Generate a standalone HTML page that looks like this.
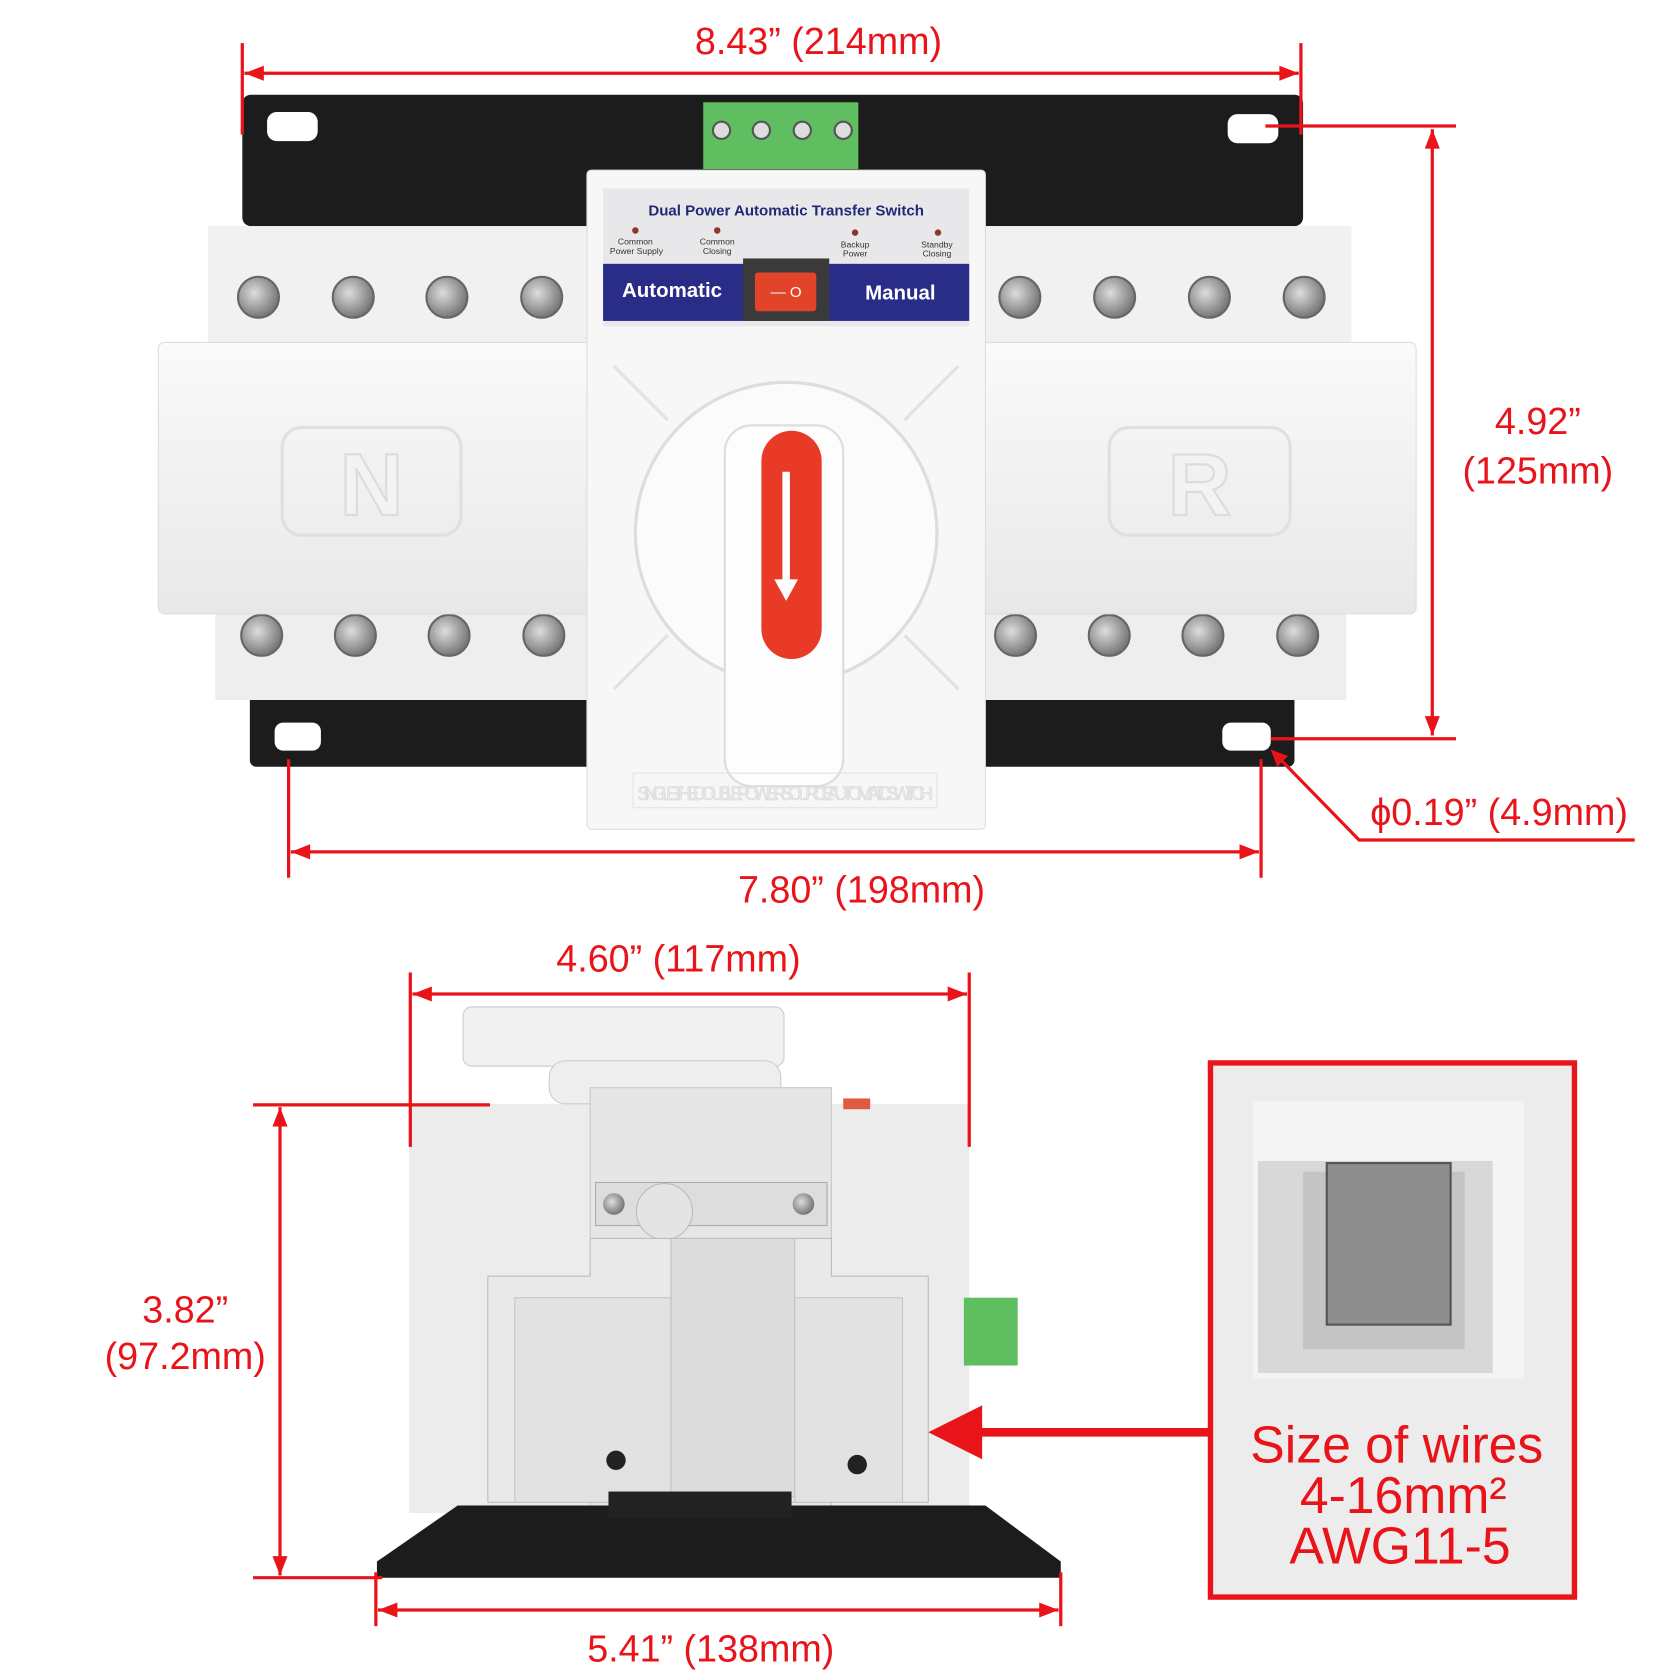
<!DOCTYPE html>
<html><head><meta charset="utf-8"><style>html,body{margin:0;padding:0;background:#fff}svg{display:block}</style></head>
<body>
<svg width="1680" height="1680" viewBox="0 0 1560 1560" xmlns="http://www.w3.org/2000/svg" font-family="Liberation Sans, sans-serif">
<defs>
<radialGradient id="sc" cx="0.4" cy="0.4" r="0.6"><stop offset="0" stop-color="#ddd"/><stop offset="1" stop-color="#777"/></radialGradient>
<linearGradient id="wg" x1="0" y1="0" x2="0" y2="1"><stop offset="0" stop-color="#fafafa"/><stop offset="1" stop-color="#e8e8e8"/></linearGradient>
</defs>
<!-- top view plates -->
<rect x="225" y="88" width="985" height="122" rx="8" fill="#1c1c1c"/>
<rect x="248" y="104" width="47" height="27" rx="9" fill="#fff"/>
<rect x="1140" y="106" width="47" height="27" rx="9" fill="#fff"/>
<rect x="232" y="640" width="970" height="72" rx="6" fill="#1c1c1c"/>
<rect x="255" y="671" width="43" height="26" rx="8" fill="#fff"/>
<rect x="1135" y="671" width="45" height="26" rx="8" fill="#fff"/>
<!-- green terminal -->
<rect x="653" y="95" width="144" height="62" fill="#5fbf60"/>
<g fill="#ddd" stroke="#555" stroke-width="2"><circle cx="670" cy="121" r="8"/><circle cx="707" cy="121" r="8"/><circle cx="745" cy="121" r="8"/><circle cx="783" cy="121" r="8"/></g>
<!-- terminal rows -->
<rect x="193" y="210" width="355" height="110" fill="#f1f1f1"/>
<rect x="912" y="210" width="343" height="110" fill="#f1f1f1"/>
<rect x="200" y="565" width="348" height="85" fill="#eeeeee"/>
<rect x="912" y="565" width="338" height="85" fill="#eeeeee"/>
<g fill="url(#sc)" stroke="#666" stroke-width="2">
<circle cx="240" cy="276" r="19"/><circle cx="328" cy="276" r="19"/><circle cx="415" cy="276" r="19"/><circle cx="503" cy="276" r="19"/>
<circle cx="947" cy="276" r="19"/><circle cx="1035" cy="276" r="19"/><circle cx="1123" cy="276" r="19"/><circle cx="1211" cy="276" r="19"/>
<circle cx="243" cy="590" r="19"/><circle cx="330" cy="590" r="19"/><circle cx="417" cy="590" r="19"/><circle cx="505" cy="590" r="19"/>
<circle cx="943" cy="590" r="19"/><circle cx="1030" cy="590" r="19"/><circle cx="1117" cy="590" r="19"/><circle cx="1205" cy="590" r="19"/>
</g>
<!-- main body -->
<rect x="147" y="318" width="1168" height="252" rx="6" fill="url(#wg)" stroke="#ddd"/>
<rect x="262" y="397" width="166" height="100" rx="18" fill="none" stroke="#e0e0e0" stroke-width="3"/>
<rect x="1030" y="397" width="168" height="100" rx="18" fill="none" stroke="#e0e0e0" stroke-width="3"/>
<text x="345" y="478" font-size="82" font-weight="bold" fill="#f3f3f3" stroke="#dcdcdc" stroke-width="2" text-anchor="middle">N</text>
<text x="1114" y="478" font-size="82" font-weight="bold" fill="#f3f3f3" stroke="#dcdcdc" stroke-width="2" text-anchor="middle">R</text>
<!-- center module -->
<rect x="545" y="158" width="370" height="612" rx="4" fill="#f7f7f7" stroke="#ddd"/>
<rect x="560" y="175" width="340" height="128" fill="#e8e8ea"/>
<text x="730" y="200" font-size="14" font-weight="bold" fill="#1e2a78" text-anchor="middle">Dual Power Automatic Transfer Switch</text>
<g fill="#8a3a2a"><circle cx="590" cy="214" r="3"/><circle cx="666" cy="214" r="3"/><circle cx="794" cy="216" r="3"/><circle cx="871" cy="216" r="3"/></g>
<g font-size="8" fill="#333" text-anchor="middle"><text x="590" y="227">Common</text><text x="591" y="236">Power Supply</text><text x="666" y="227">Common</text><text x="666" y="236">Closing</text><text x="794" y="230">Backup</text><text x="794" y="238">Power</text><text x="870" y="230">Standby</text><text x="870" y="238">Closing</text></g>
<rect x="560" y="245" width="340" height="53" fill="#2a2d88"/>
<rect x="690" y="240" width="80" height="58" fill="#3a3a3a"/>
<rect x="701" y="253" width="57" height="36" rx="3" fill="#e2442a"/>
<text x="730" y="276" font-size="14" fill="#fff" text-anchor="middle">— O</text>
<text x="624" y="276" font-size="19" font-weight="bold" fill="#fff" text-anchor="middle">Automatic</text>
<text x="836" y="278" font-size="19" font-weight="bold" fill="#fff" text-anchor="middle">Manual</text>
<circle cx="730" cy="495" r="140" fill="#fbfbfb" stroke="#ddd" stroke-width="3"/>
<g stroke="#e2e2e2" stroke-width="3" fill="none"><path d="M570 340L620 390M890 340L840 390M570 640L620 590M890 640L840 590"/></g>
<rect x="673" y="395" width="110" height="335" rx="25" fill="#fdfdfd" stroke="#ddd" stroke-width="2"/>
<rect x="707" y="400" width="56" height="212" rx="28" fill="#e83a26"/>
<path d="M730 438V545" stroke="#fff" stroke-width="7"/><path d="M719 538L730 558L741 538Z" fill="#fff"/>
<rect x="588" y="718" width="282" height="32" fill="none" stroke="#e3e3e3"/>
<text x="729" y="743" font-size="18" fill="#e8e8e8" stroke="#d8d8d8" stroke-width="0.5" text-anchor="middle" textLength="275">SINGLE THE DOUBLE POWER SOURCE AUTOMATIC SWITCH</text>
<!-- top view dims -->
<g stroke="#e8141a" stroke-width="3" fill="none">
<path d="M225 40V125M1208 40V125M227 68H1206"/>
<path d="M1175 117H1352M1180 686H1352M1330 120V683"/>
<path d="M268 705V815M1171 705V815M270 791H1169"/>
<path d="M1182 698L1262 780H1518"/>
</g>
<g fill="#e8141a">
<path d="M227 68l18-7v14z"/><path d="M1206 68l-18-7v14z"/>
<path d="M1330 120l-7 18h14z"/><path d="M1330 683l-7-18h14z"/>
<path d="M270 791l18-7v14z"/><path d="M1169 791l-18-7v14z"/>
<path d="M1180 696l16 6-10 10z"/>
</g>
<g fill="#e8141a" font-size="35" text-anchor="middle">
<text x="760" y="50">8.43” (214mm)</text>
<text x="1428" y="403">4.92”</text><text x="1428" y="449">(125mm)</text>
<text x="800" y="838">7.80” (198mm)</text>
<text x="1392" y="766">ϕ0.19” (4.9mm)</text>
<text x="630" y="902">4.60” (117mm)</text>
<text x="172" y="1228">3.82”</text><text x="172" y="1271">(97.2mm)</text>
<text x="660" y="1543">5.41” (138mm)</text>
</g>
<!-- side view -->
<rect x="380" y="1025" width="520" height="380" fill="#ececec"/>
<rect x="430" y="935" width="298" height="55" rx="8" fill="#f1f1f1" stroke="#ccc"/>
<rect x="510" y="985" width="215" height="40" rx="15" fill="#eee" stroke="#ccc"/>
<rect x="783" y="1020" width="25" height="10" fill="#e05a40"/>
<rect x="548" y="1010" width="224" height="390" fill="#e6e6e6" stroke="#c8c8c8"/>
<rect x="553" y="1098" width="215" height="40" fill="#ddd" stroke="#aaa"/>
<circle cx="570" cy="1118" r="10" fill="url(#sc)"/><circle cx="746" cy="1118" r="10" fill="url(#sc)"/>
<circle cx="617" cy="1125" r="26" fill="#e4e4e4" stroke="#bbb"/>
<path d="M453 1185H548V1150H772V1185H862V1395H453Z" fill="#e9e9e9" stroke="#bdbdbd"/>
<rect x="478" y="1205" width="145" height="190" fill="#e2e2e2" stroke="#c4c4c4"/>
<rect x="623" y="1150" width="115" height="240" fill="#dcdcdc" stroke="#c0c0c0"/>
<rect x="738" y="1205" width="100" height="190" fill="#e2e2e2" stroke="#c4c4c4"/>
<circle cx="572" cy="1356" r="9" fill="#222"/><circle cx="796" cy="1360" r="9" fill="#222"/>
<rect x="895" y="1205" width="50" height="63" fill="#5fbf60"/>
<path d="M350 1450L425 1398H915L985 1450V1465H350Z" fill="#1c1c1c"/>
<rect x="565" y="1385" width="170" height="25" fill="#222"/>
<g stroke="#e8141a" stroke-width="3" fill="none">
<path d="M381 903V1065M900 903V1065M383 923H898"/>
<path d="M235 1026H455M235 1465H355M260 1028V1463"/>
<path d="M349 1460V1510M985 1460V1510M351 1495H983"/>
</g>
<g fill="#e8141a">
<path d="M383 923l18-7v14z"/><path d="M898 923l-18-7v14z"/>
<path d="M260 1028l-7 18h14z"/><path d="M260 1463l-7-18h14z"/>
<path d="M351 1495l18-7v14z"/><path d="M983 1495l-18-7v14z"/>
</g>
<path d="M905 1330H1124" stroke="#e8141a" stroke-width="8"/>
<path d="M862 1330L912 1305V1355Z" fill="#e8141a"/>
<!-- inset -->
<rect x="1124" y="987" width="338" height="496" fill="#ececec" stroke="#e8141a" stroke-width="5"/>
<rect x="1163" y="1022" width="252" height="258" fill="#f4f4f4"/>
<rect x="1168" y="1078" width="218" height="197" fill="#d8d8d8"/>
<rect x="1210" y="1088" width="150" height="165" fill="#c4c4c4"/>
<rect x="1232" y="1080" width="115" height="150" fill="#8e8e8e" stroke="#555" stroke-width="2"/>
<g fill="#e8141a" font-size="48" text-anchor="middle">
<text x="1297" y="1358">Size of wires</text>
<text x="1303" y="1405">4-16mm²</text>
<text x="1300" y="1452">AWG11-5</text>
</g>
</svg>
</body></html>
